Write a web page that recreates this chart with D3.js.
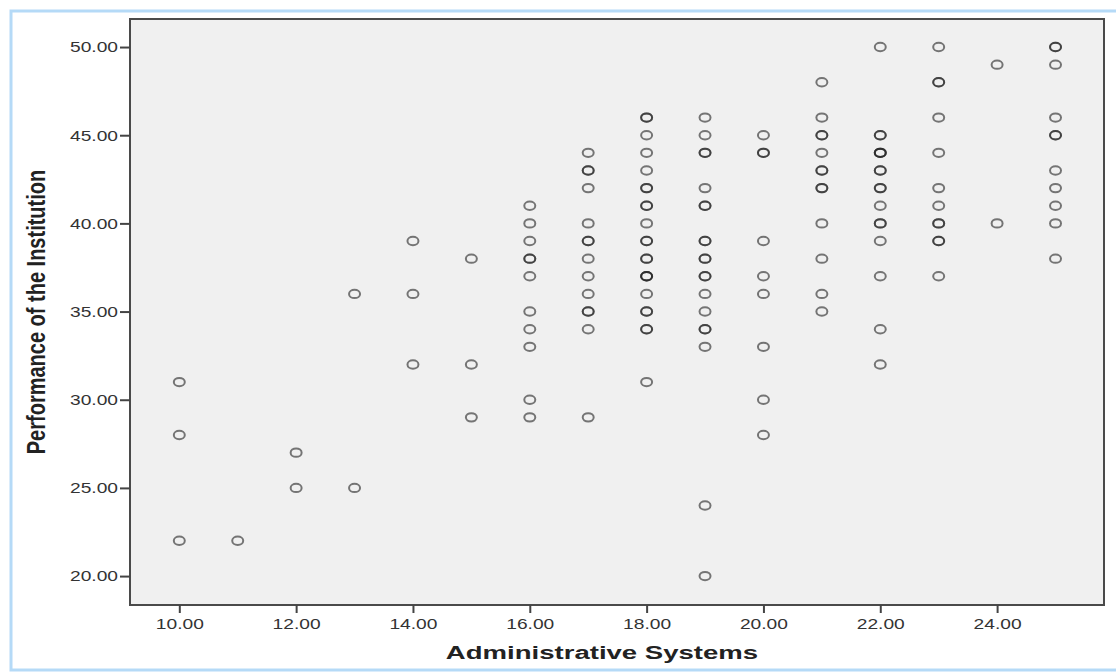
<!DOCTYPE html>
<html>
<head>
<meta charset="utf-8">
<script src="https://cdn.jsdelivr.net/npm/d3@7"></script>
<style>
  body { margin: 0; background: #fff; }
  svg { display: block; font-family: Arial, "Liberation Sans", sans-serif; }
</style>
</head>
<body>
<svg id="chart" width="1116" height="672"></svg>
<script>
// Administrative Systems (x) vs Performance of the Institution (y)
// repeated values = overlapping cases (drawn darker)
const adminScores = [10, 11, 12, 13, 14, 15, 16, 17, 18, 19, 20, 21, 22, 23, 24, 25];
const performance = [
  [31, 28, 22],
  [22],
  [27, 25],
  [36, 25],
  [39, 36, 32],
  [38, 32, 29],
  [41, 40, 39, 38, 38, 37, 35, 34, 33, 30, 29],
  [44, 43, 43, 42, 40, 39, 39, 38, 37, 36, 35, 35, 34, 29],
  [46, 46, 45, 44, 43, 42, 42, 41, 41, 40, 39, 39, 38, 38, 37, 37, 37, 36, 35, 35, 34, 34, 31],
  [46, 45, 44, 44, 42, 41, 41, 39, 39, 38, 38, 37, 37, 36, 35, 34, 34, 33, 24, 20],
  [45, 44, 44, 39, 37, 36, 33, 30, 28],
  [48, 46, 45, 45, 44, 43, 43, 42, 42, 40, 38, 36, 35],
  [50, 45, 45, 44, 44, 44, 43, 43, 42, 42, 41, 40, 40, 39, 37, 34, 32],
  [50, 48, 48, 46, 44, 42, 41, 40, 40, 39, 39, 37],
  [49, 40],
  [50, 50, 49, 46, 45, 45, 43, 42, 41, 40, 38]
];
const xTicks = [10, 12, 14, 16, 18, 20, 22, 24];
const yTicks = [20, 25, 30, 35, 40, 45, 50];

const points = [];
adminScores.forEach((a, i) => performance[i].forEach(p => points.push({ x: a, y: p })));

const svg = d3.select('#chart');
const sx = 1.28; // the picture is stretched sideways
const frame = { left: 130, top: 19, right: 1104, bottom: 605 };

// outer light blue frame
svg.append('rect')
  .attr('x', 11).attr('y', 11)
  .attr('width', 1120).attr('height', 659)
  .attr('fill', '#fff')
  .attr('stroke', '#b5daf7')
  .attr('stroke-width', 3);

const x = d3.scaleLinear().domain([9.156, 25.83]).range([frame.left, frame.right]);
const y = d3.scaleLinear().domain([18.36, 51.59]).range([frame.bottom, frame.top]);

svg.append('rect')
  .attr('x', frame.left).attr('y', frame.top)
  .attr('width', frame.right - frame.left)
  .attr('height', frame.bottom - frame.top)
  .attr('fill', '#f0f0f0')
  .attr('stroke', '#4a4a4a')
  .attr('stroke-width', 2);

const yAxis = svg.append('g')
  .attr('transform', `translate(${frame.left},0)`)
  .call(d3.axisLeft(y).tickValues(yTicks).tickFormat(d3.format('.2f')).tickSize(10).tickPadding(2));

const xAxis = svg.append('g')
  .attr('transform', `translate(0,${frame.bottom})`)
  .call(d3.axisBottom(x).tickValues(xTicks).tickFormat(d3.format('.2f')).tickSize(8).tickPadding(5));

[yAxis, xAxis].forEach(ax => {
  ax.select('.domain').remove();
  ax.selectAll('.tick line').attr('stroke', '#444').attr('stroke-width', 2);
  ax.selectAll('.tick text')
    .attr('fill', '#333')
    .style('font-size', '15px');
});
yAxis.selectAll('.tick text').attr('x', -12 / sx).attr('transform', `scale(${sx},1)`);
xAxis.selectAll('.tick text').attr('transform', `scale(${sx},1)`);

svg.append('g')
  .selectAll('ellipse')
  .data(points)
  .join('ellipse')
  .attr('cx', d => x(d.x))
  .attr('cy', d => y(d.y))
  .attr('rx', 5.5)
  .attr('ry', 4.2)
  .attr('fill', 'none')
  .attr('stroke', '#222')
  .attr('stroke-opacity', 0.6)
  .attr('stroke-width', 2);

svg.append('text')
  .attr('transform', `translate(${(frame.left + frame.right) / 2 - 15},659) scale(1.45,1)`)
  .attr('text-anchor', 'middle')
  .attr('fill', '#222')
  .style('font-size', '19px')
  .style('font-weight', 'bold')
  .text('Administrative Systems');

svg.append('text')
  .attr('transform', `translate(45,${(frame.top + frame.bottom) / 2}) scale(${sx},1) rotate(-90)`)
  .attr('text-anchor', 'middle')
  .attr('fill', '#222')
  .style('font-size', '20px')
  .style('font-weight', 'bold')
  .text('Performance of the Institution');
</script>
</body>
</html>
